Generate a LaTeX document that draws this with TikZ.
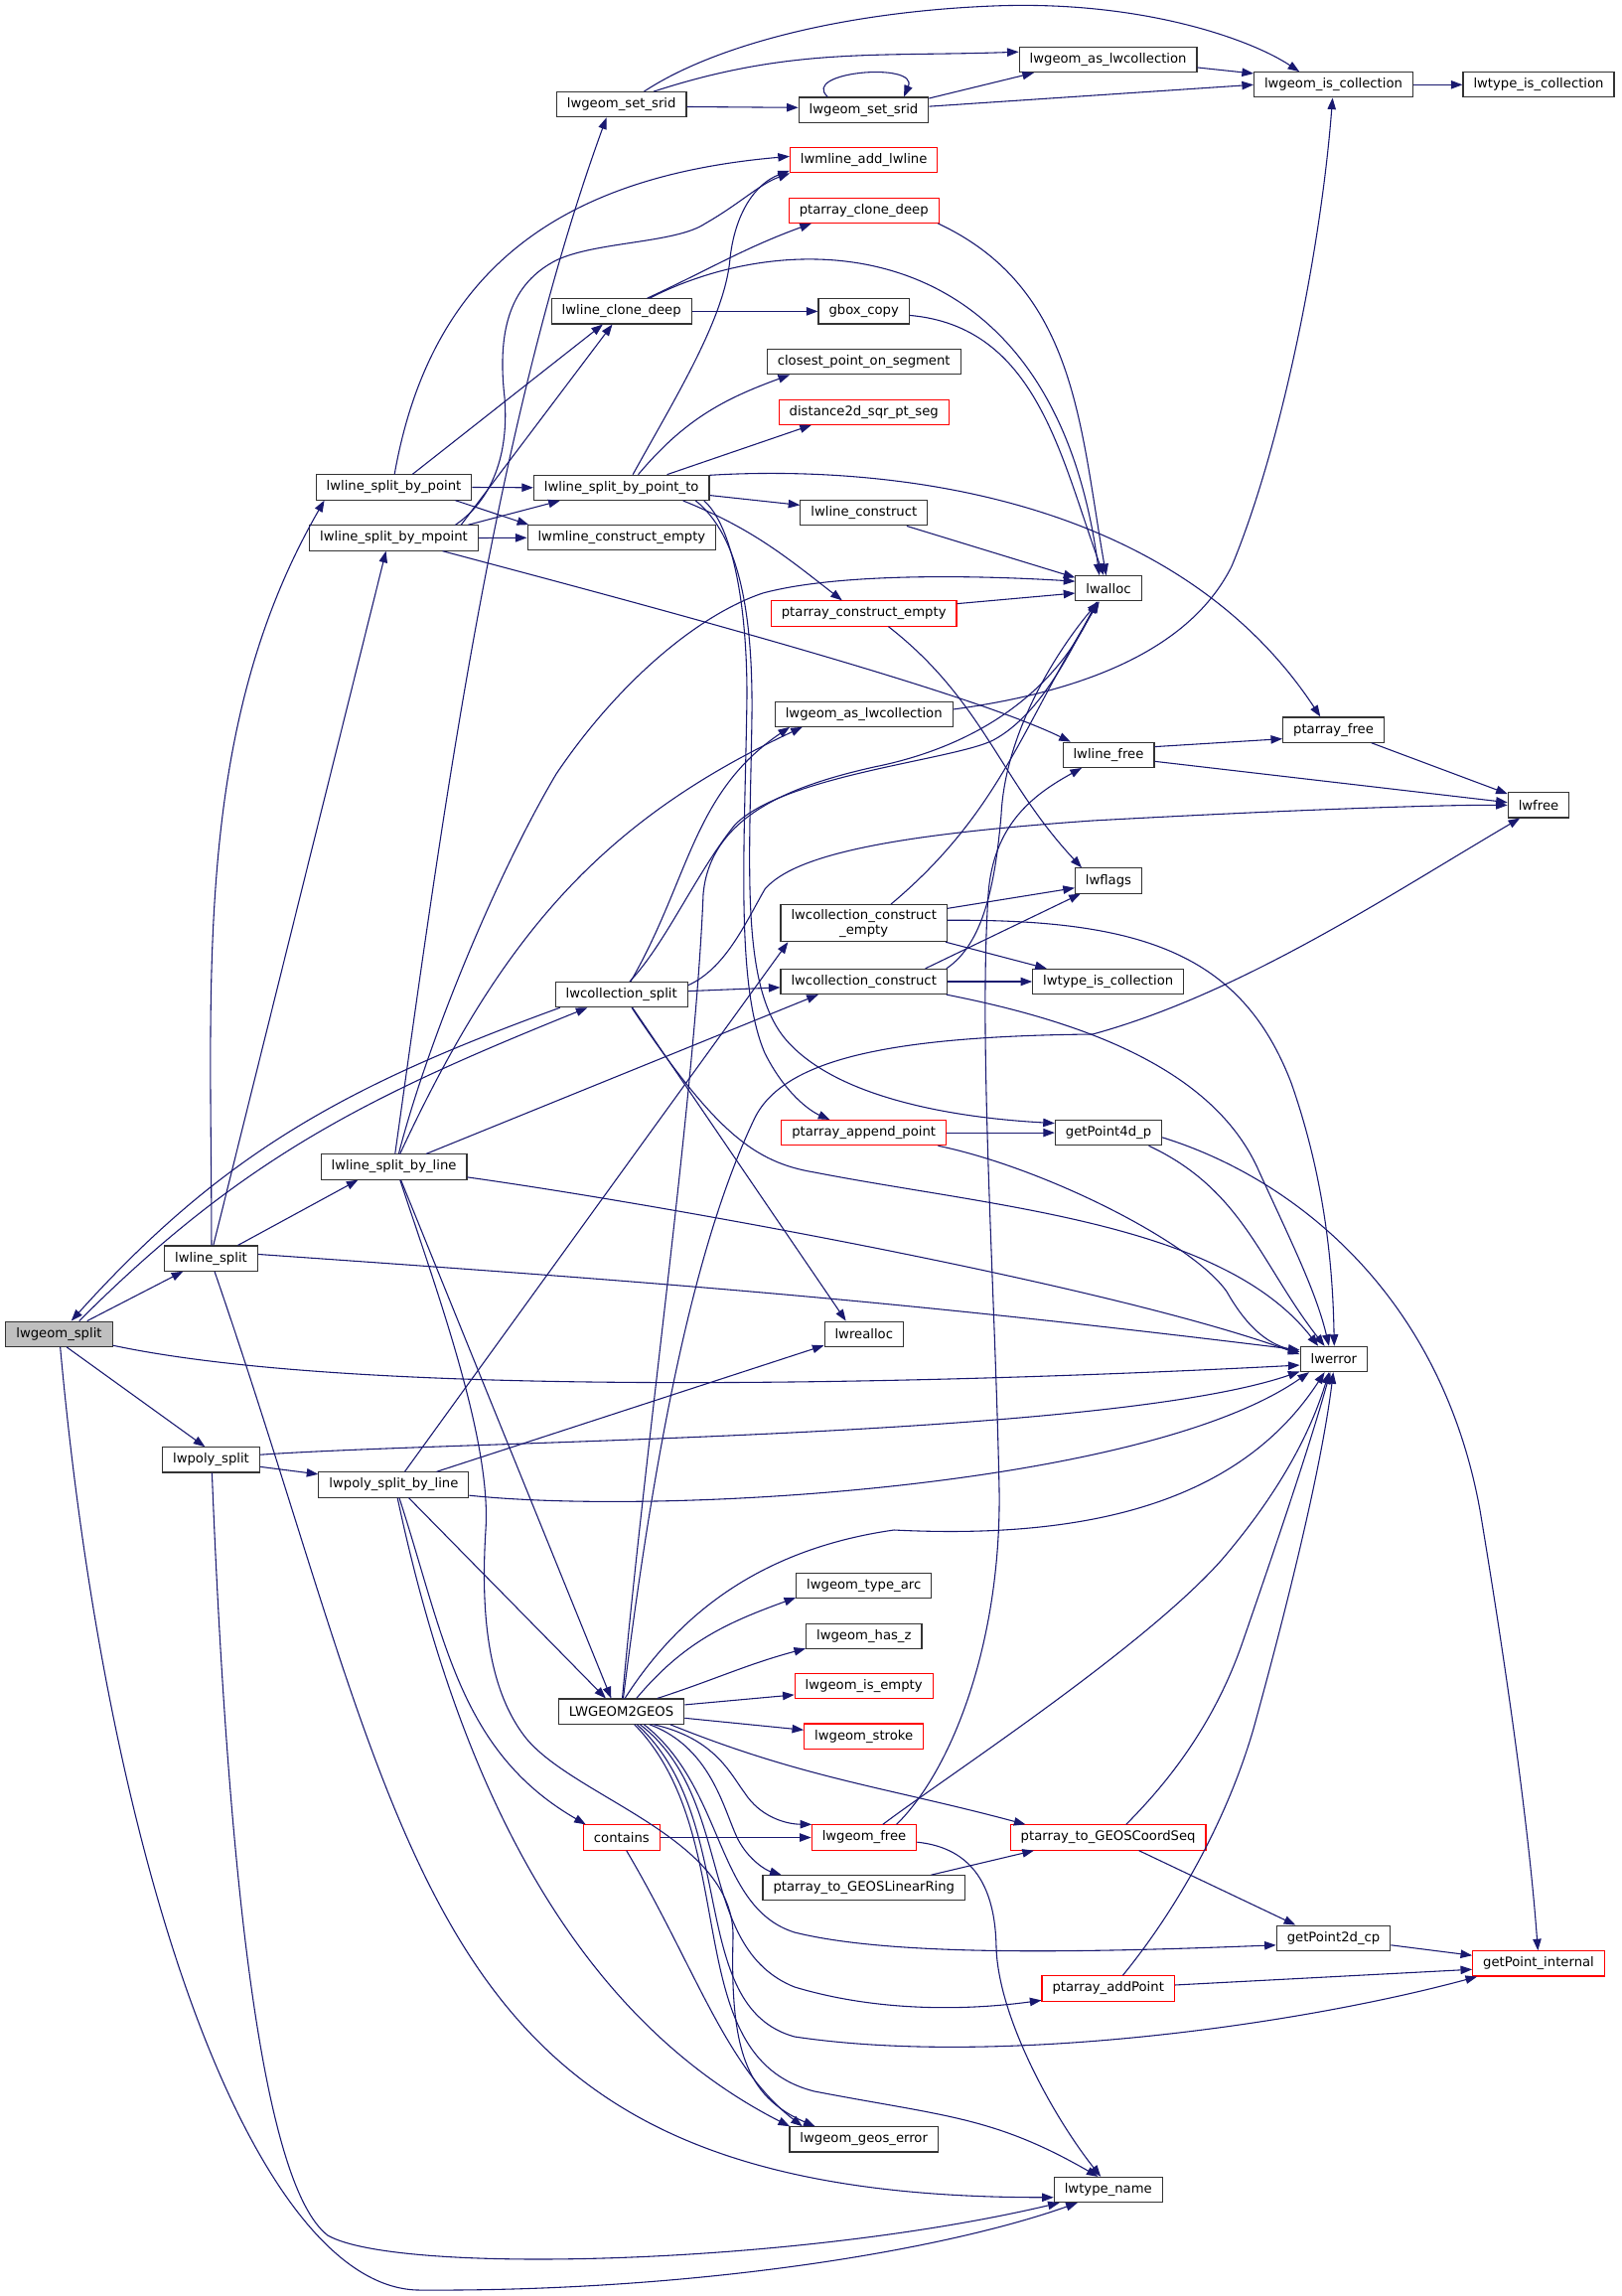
\documentclass[tikz,border=0pt]{standalone}
\usepackage{fontspec}
\setmainfont{DejaVu Sans}
\usepackage{tikz}
\usetikzlibrary{arrows.meta,positioning}
\definecolor{callblue}{RGB}{25,25,112}
\definecolor{boxgray}{RGB}{51,51,51}
\definecolor{rootgray}{RGB}{191,191,191}
\tikzstyle{fn} = [rectangle, draw=boxgray, fill=white, line width=0.28pt, inner xsep=2.62pt, inner ysep=0.5pt, minimum height=6.3pt, font=\fontsize{3.3}{3.75}\selectfont]
\tikzstyle{fnred} = [fn, draw=red]
\tikzstyle{call} = [line width=0.27pt, color=callblue, -{Triangle[length=2.9pt,width=2.1pt]}]

\begin{document}
\begin{tikzpicture}[x=0.25pt, y=0.25pt]
\useasboundingbox[fill=white] (0,0) rectangle (1632,-2311);

% callers
\node[fn, fill=rootgray] (split) at (59.5,-1342.7) {lwgeom\_split};
\node[fn] (lsplit) at (212.5,-1266.6) {lwline\_split};
\node[fn] (psplit) at (212.5,-1469.4) {lwpoly\_split};
\node[fn] (byPoint) at (396.5,-490.5) {lwline\_split\_by\_point};
\node[fn] (byMpoint) at (396.5,-541.5) {lwline\_split\_by\_mpoint};
\node[fn] (byLine) at (396.6,-1174.5) {lwline\_split\_by\_line};
\node[fn] (polyByLine) at (396.4,-1494.5) {lwpoly\_split\_by\_line};
\node[fn] (setSrid) at (625.7,-105.2) {lwgeom\_set\_srid};
\node[fn] (cloneDeep) at (625.7,-313.4) {lwline\_clone\_deep};
\node[fn] (byPointTo) at (625.7,-490.8) {lwline\_split\_by\_point\_to};
\node[fn] (mlineEmpty) at (625.9,-541.3) {lwmline\_construct\_empty};
\node[fn] (collSplit) at (625.7,-1001.1) {lwcollection\_split};
\node[fn] (geos) at (625.6,-1722.6) {LWGEOM2GEOS};
\node[fnred] (contains) at (625.9,-1849.5) {contains};

% middle column
\node[fn] (setSridB) at (869.5,-110.6) {lwgeom\_set\_srid};
\node[fnred] (addLwline) at (869.7,-161.3) {lwmline\_add\_lwline};
\node[fnred] (ptClone) at (869.7,-211.8) {ptarray\_clone\_deep};
\node[fn] (gbox) at (869.7,-313.4) {gbox\_copy};
\node[fn] (closest) at (869.7,-364.2) {closest\_point\_on\_segment};
\node[fnred] (distSeg) at (869.7,-414.7) {distance2d\_sqr\_pt\_seg};
\node[fn] (lineCons) at (869.8,-516.3) {lwline\_construct};
\node[fnred] (ptEmpty) at (869.7,-617.5) {ptarray\_construct\_empty};
\node[fn] (asCollB) at (869.7,-718.7) {lwgeom\_as\_lwcollection};
\node[fn, align=center, inner ysep=1.1pt] (collEmpty) at (869.7,-929.2) {lwcollection\_construct\\\_empty};
\node[fn] (collCons) at (869.7,-988) {lwcollection\_construct};
\node[fnred] (appendPt) at (869.7,-1140.1) {ptarray\_append\_point};
\node[fn] (realloc) at (869.8,-1342.7) {lwrealloc};
\node[fn] (typeArc) at (869.7,-1596) {lwgeom\_type\_arc};
\node[fn] (hasZ) at (869.8,-1646.8) {lwgeom\_has\_z};
\node[fnred] (isEmpty) at (869.7,-1697.3) {lwgeom\_is\_empty};
\node[fnred] (stroke) at (869.7,-1747.6) {lwgeom\_stroke};
\node[fnred] (geomFree) at (870,-1849.5) {lwgeom\_free};
\node[fn] (linearRing) at (869.8,-1900.3) {ptarray\_to\_GEOSLinearRing};
\node[fn] (geosError) at (869.7,-2153.4) {lwgeom\_geos\_error};

% right columns
\node[fn] (asColl) at (1115.6,-60.1) {lwgeom\_as\_lwcollection};
\node[fn] (lwalloc) at (1116,-592.3) {lwalloc};
\node[fn] (lineFree) at (1116,-759.8) {lwline\_free};
\node[fn] (lwflags) at (1116,-886.5) {lwflags};
\node[fn] (typeCollB) at (1115.7,-988) {lwtype\_is\_collection};
\node[fn] (getPfour) at (1116,-1140.1) {getPoint4d\_p};
\node[fnred] (coordSeq) at (1115.6,-1849.5) {ptarray\_to\_GEOSCoordSeq};
\node[fnred] (addPoint) at (1115.7,-2001.5) {ptarray\_addPoint};
\node[fn] (typeName) at (1115.8,-2204) {lwtype\_name};
\node[fn] (isColl) at (1342.5,-85.3) {lwgeom\_is\_collection};
\node[fn] (ptFree) at (1342.5,-734.6) {ptarray\_free};
\node[fn] (lwerror) at (1342.8,-1368) {lwerror};
\node[fn] (getPtwo) at (1342.5,-1950.7) {getPoint2d\_cp};
\node[fn] (typeColl) at (1549,-85.3) {lwtype\_is\_collection};
\node[fn] (lwfree) at (1549,-810.4) {lwfree};
\node[fnred] (getPint) at (1549,-1976.4) {getPoint\_internal};

% lwgeom_split
\draw[call] (split.25) -- (lsplit.205);
\draw[call] (split.-60) -- (psplit.115);
\draw[call] (split.33) to[out=45,in=202] (collSplit.201);
\draw[call] (collSplit.192) to[out=200,in=48] (split.47);
\draw[call] (split.-12) to[out=-12,in=183,looseness=0.6] (lwerror.190);
\draw[call] (split.-85) .. controls (110,-1900) and (260,-2300) .. (420,-2305) .. controls (700,-2307) and (950,-2265) .. (typeName.203);

% lwline_split / lwpoly_split
\draw[call] (lsplit.88) to[out=90,in=240,looseness=0.9] ([xshift=2.25pt]byPoint.south west);
\draw[call] (lsplit.80) -- (byMpoint.239);
\draw[call] (lsplit.26) -- (byLine.200);
\draw[call] (lsplit.5) to[out=-4,in=173] (lwerror.165);
\draw[call] (lsplit.-75) to[out=-71,in=180,looseness=1.3] (typeName.188);
\draw[call] (psplit.-8) -- (polyByLine.172);
\draw[call] (psplit.6) to[out=4,in=199,looseness=0.5] (lwerror.200);
\draw[call] (psplit.-86) .. controls (230,-1900) and (265,-2200) .. (330,-2250) .. controls (400,-2290) and (800,-2280) .. (typeName.195);

% lwcollection_split
\draw[call] (collSplit.55) to[out=60,in=214] (asCollB.190);
\draw[call] (collSplit.3) -- (collCons.184);
\draw[call] (collSplit.-50) -- (realloc.144);
\draw[call] (collSplit.-52) .. controls (720,-1140) and (760,-1170) .. (820,-1180) .. controls (1000,-1215) and (1230,-1230) .. (lwerror.140);
\draw[call] (collSplit.58) .. controls (670,-950) and (700,-880) .. (740,-830) .. controls (790,-780) and (960,-765) .. (1000,-745) .. controls (1050,-718) and (1080,-650) .. (lwalloc.230);
\draw[call] (collSplit.8) .. controls (730,-975) and (750,-930) .. (770,-895) .. controls (800,-860) and (900,-840) .. (1100,-826) .. controls (1300,-815) and (1450,-810) .. (lwfree.180);

% lwline_split_by_point / mpoint
\draw[call] (byPoint.east) -- (byPointTo.west);
\draw[call] (byPoint.-12) -- (mlineEmpty.172);
\draw[call] (byPoint.35) -- (cloneDeep.215);
\draw[call] (byPoint.87) to[out=80,in=185,looseness=1.1] (addLwline.177);
\draw[call] (byMpoint.east) -- (mlineEmpty.west);
\draw[call] (byMpoint.10) -- (byPointTo.192);
\draw[call] (byMpoint.11) -- (cloneDeep.235);
\draw[call] (byMpoint.12) .. controls (500,-500) and (512,-450) .. (508,-400) .. controls (500,-330) and (515,-285) .. (560,-262) .. controls (600,-243) and (680,-245) .. (710,-225) .. controls (745,-205) and (765,-185) .. (addLwline.190);
\draw[call] (byMpoint.-15) to[out=-15,in=154,looseness=0.5] (lineFree.161);

% lwline_split_by_line
\draw[call] (byLine.85) to[out=82,in=250,looseness=0.8] (setSrid.221);
\draw[call] (byLine.70) .. controls (430,-1050) and (500,-880) .. (560,-779) .. controls (620,-690) and (700,-620) .. (768,-597) .. controls (850,-575) and (1000,-580) .. (lwalloc.168);
\draw[call] (byLine.65) to[out=65,in=205] (asCollB.192);
\draw[call] (byLine.22) -- (collCons.196);
\draw[call] (byLine.-8) to[out=-8,in=160,looseness=0.6] (lwerror.172);
\draw[call] (byLine.-62) -- (geos.128);
\draw[call] (byLine.-65) .. controls (440,-1300) and (495,-1450) .. (489,-1540) .. controls (484,-1620) and (490,-1700) .. (530,-1750) .. controls (580,-1810) and (740,-1850) .. (738,-1950) .. controls (735,-2060) and (750,-2110) .. (geosError.165);

% lwpoly_split_by_line
\draw[call] (polyByLine.50) -- (collEmpty.194);
\draw[call] (polyByLine.17) -- (realloc.196);
\draw[call] (polyByLine.-8) to[out=-6,in=215,looseness=0.6] (lwerror.208);
\draw[call] (polyByLine.-41) -- (geos.140);
\draw[call] (polyByLine.-67) to[out=-72,in=150] (contains.160);
\draw[call] (polyByLine.-74) to[out=-78,in=153,looseness=0.9] (geosError.170);

% lwline_split_by_point_to
\draw[call] (byPointTo.49) .. controls (680,-400) and (730,-320) .. (735,-260) .. controls (740,-215) and (760,-185) .. (addLwline.188);
\draw[call] (byPointTo.38) to[out=50,in=200] (closest.190);
\draw[call] (byPointTo.16) -- (distSeg.194);
\draw[call] (byPointTo.8) .. controls (850,-470) and (1170,-480) .. (ptFree.135);
\draw[call] (byPointTo.-5) -- (lineCons.173);
\draw[call] (byPointTo.-12) to[out=-22,in=142] (ptEmpty.149);
\draw[call] (byPointTo.-9) .. controls (738,-530) and (752,-610) .. (752,-700) .. controls (750,-850) and (740,-990) .. (770,-1060) .. controls (790,-1100) and (815,-1118) .. (appendPt.159);
\draw[call] (byPointTo.-10) .. controls (745,-540) and (758,-620) .. (757,-720) .. controls (755,-870) and (745,-990) .. (790,-1045) .. controls (840,-1105) and (960,-1125) .. (getPfour.170);

% srid / collection
\draw[call] (setSrid.-2) -- (setSridB.178);
\draw[call] (setSrid.22) to[out=18,in=182] (asColl.175);
\draw[call] (setSrid.30) .. controls (720,-45) and (850,-12) .. (1000,-6) .. controls (1150,0) and (1260,-40) .. (isColl.159);
\draw[call] (setSridB.160) .. controls (805,-72) and (925,-62) .. (setSridB.18);
\draw[call] (setSridB.10) -- (asColl.190);
\draw[call] (setSridB.3) -- (isColl.west);
\draw[call] (asColl.-5) -- (isColl.172);
\draw[call] (isColl.east) -- (typeColl.west);
\draw[call] (asCollB.3) .. controls (1100,-695) and (1200,-650) .. (1240,-570) .. controls (1290,-450) and (1330,-250) .. (isColl.266);

% clone / construct
\draw[call] (cloneDeep.27) to[out=25,in=200] (ptClone.194);
\draw[call] (cloneDeep.25) .. controls (800,-225) and (1060,-230) .. (lwalloc.125);
\draw[call] (cloneDeep.east) -- (gbox.west);
\draw[call] (gbox.-5) to[out=-5,in=110] (lwalloc.110);
\draw[call] (ptClone.-10) to[out=-25,in=100] (lwalloc.100);
\draw[call] (lineCons.-17) -- (lwalloc.162);
\draw[call] (ptEmpty.6) -- (lwalloc.188);
\draw[call] (ptEmpty.-28) to[out=-38,in=133] (lwflags.154);
\draw[call] (collEmpty.35) to[out=40,in=238] (lwalloc.235);
\draw[call] (collEmpty.10) -- (lwflags.192);
\draw[call] (collEmpty.-13) -- (typeCollB.168);
\draw[call] (collEmpty.2) .. controls (1150,-925) and (1250,-960) .. (1300,-1090) .. controls (1335,-1190) and (1342,-1280) .. (lwerror.88);
\draw[call] (collCons.9) .. controls (990,-950) and (1002,-890) .. (1008,-820) .. controls (1012,-740) and (1060,-660) .. (lwalloc.232);
\draw[call] (collCons.12) -- (lwflags.205);
\draw[call] (collCons.east) -- (typeCollB.west);
\draw[call] (collCons.-9) .. controls (1100,-1030) and (1225,-1080) .. (1268,-1180) .. controls (1300,-1250) and (1325,-1300) .. (lwerror.110);
\draw[call] (appendPt.east) -- (getPfour.west);
\draw[call] (appendPt.-10) .. controls (1050,-1175) and (1200,-1250) .. (1235,-1300) .. controls (1255,-1335) and (1275,-1352) .. (lwerror.168);
\draw[call] (getPfour.-18) to[out=-25,in=128] (lwerror.125);
\draw[call] (getPfour.-5) .. controls (1300,-1185) and (1450,-1300) .. (1490,-1520) .. controls (1520,-1700) and (1540,-1850) .. (getPint.93);
\draw[call] (lineFree.10) -- (ptFree.190);
\draw[call] (lineFree.-8) -- (lwfree.175);
\draw[call] (ptFree.-19) -- (lwfree.160);

% LWGEOM2GEOS
\draw[call] (geos.41) to[out=50,in=200] (typeArc.190);
\draw[call] (geos.20) to[out=18,in=195] (hasZ.192);
\draw[call] (geos.6) -- (isEmpty.187);
\draw[call] (geos.-6) -- (stroke.174);
\draw[call] (geos.-22) .. controls (720,-1750) and (735,-1785) .. (750,-1805) .. controls (765,-1828) and (790,-1836) .. (geomFree.166);
\draw[call] (geos.-25) .. controls (720,-1760) and (730,-1830) .. (745,-1855) .. controls (755,-1872) and (770,-1882) .. (linearRing.171);
\draw[call] (geos.-15) to[out=-22,in=165] (coordSeq.171);
\draw[call] (geos.-30) .. controls (730,-1800) and (720,-1920) .. (800,-1945) .. controls (900,-1970) and (1100,-1965) .. (getPtwo.187);
\draw[call] (geos.-35) .. controls (740,-1810) and (700,-1960) .. (800,-2000) .. controls (900,-2030) and (1000,-2020) .. (addPoint.190);
\draw[call] (geos.-40) .. controls (745,-1830) and (690,-2020) .. (800,-2050) .. controls (1000,-2080) and (1300,-2040) .. (getPint.192);
\draw[call] (geos.-45) .. controls (750,-1850) and (680,-2070) .. (820,-2105) .. controls (950,-2130) and (1000,-2130) .. (typeName.128);
\draw[call] (geos.75) .. controls (680,-1630) and (760,-1560) .. (900,-1540) .. controls (1100,-1550) and (1250,-1510) .. (lwerror.235);
\draw[call] (geos.86) .. controls (650,-1450) and (700,-1100) .. (708,-900) .. controls (715,-820) and (800,-790) .. (880,-772) .. controls (980,-752) and (1060,-700) .. (lwalloc.228);
\draw[call] (geos.82) .. controls (660,-1450) and (700,-1250) .. (760,-1125) .. controls (790,-1065) and (900,-1043) .. (1100,-1041) .. controls (1250,-1000) and (1400,-900) .. (lwfree.215);

% lower helpers
\draw[call] (contains.east) -- (geomFree.west);
\draw[call] (contains.-70) .. controls (700,-1980) and (730,-2080) .. (geosError.168);
\draw[call] (geomFree.35) .. controls (950,-1790) and (1150,-1660) .. (1230,-1570) .. controls (1290,-1500) and (1320,-1440) .. (lwerror.250);
\draw[call] (geomFree.22) .. controls (960,-1780) and (1008,-1650) .. (1006,-1500) .. controls (1002,-1300) and (985,-1050) .. (995,-900) .. controls (1000,-830) and (1040,-800) .. (lineFree.206);
\draw[call] (geomFree.-5) .. controls (980,-1860) and (1002,-1900) .. (1003,-1960) .. controls (1005,-2030) and (1060,-2130) .. (typeName.120);
\draw[call] (linearRing.11) -- (coordSeq.190);
\draw[call] (coordSeq.36) .. controls (1180,-1790) and (1225,-1730) .. (1252,-1650) .. controls (1290,-1540) and (1320,-1450) .. (lwerror.255);
\draw[call] (coordSeq.-23) -- (getPtwo.161);
\draw[call] (addPoint.42) .. controls (1170,-1940) and (1230,-1850) .. (1262,-1740) .. controls (1295,-1620) and (1330,-1480) .. (lwerror.268);
\draw[call] (addPoint.3) -- (getPint.185);
\draw[call] (getPtwo.-7) -- (getPint.173);
\end{tikzpicture}
\end{document}
